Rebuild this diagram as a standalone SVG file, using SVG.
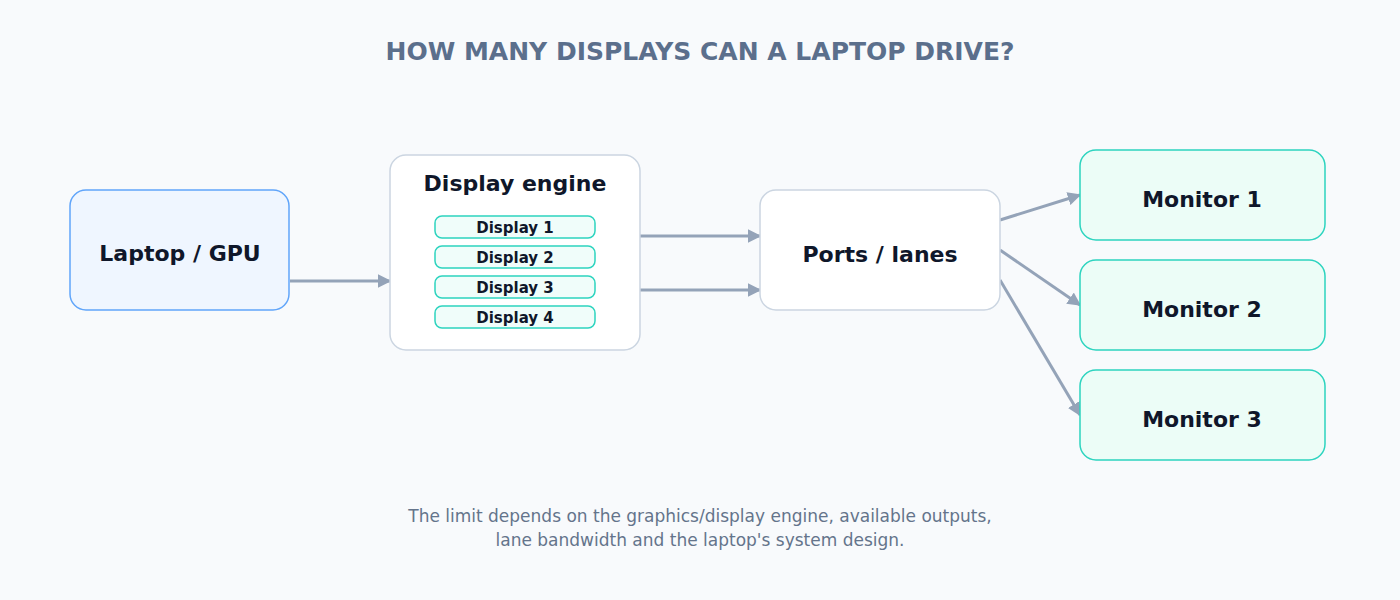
<svg xmlns="http://www.w3.org/2000/svg" width="1400" height="600" viewBox="0 0 1400 600">
<style>
text{font-family:"DejaVu Sans",sans-serif;text-anchor:middle;dominant-baseline:central}
.t{font-weight:bold;fill:#0f172a;font-size:22px}
.p{fill:#f0fdfa;stroke:#2dd4bf;stroke-width:1.5}
.pt{font-weight:bold;fill:#0f172a;font-size:15px}
.m{fill:#ecfdf7;stroke:#2dd4bf;stroke-width:1.5}
.c{stroke:#94a3b8;stroke-width:3;fill:none;marker-end:url(#a)}
</style>
<defs><marker id="a" viewBox="0 0 10 10" refX="9" refY="5" markerWidth="4.5" markerHeight="4.5" orient="auto"><path d="M0,0L10,5L0,10z" fill="#94a3b8"/></marker></defs>
<rect width="1400" height="600" fill="#f8fafc"/>
<text x="700" y="51" style="font-weight:bold;font-size:25px;fill:#5b6f8c">HOW MANY DISPLAYS CAN A LAPTOP DRIVE?</text>
<g id="connectors">
<line class="c" x1="290" y1="281" x2="390" y2="281"/>
<line class="c" x1="640" y1="236" x2="760" y2="236"/>
<line class="c" x1="640" y1="290" x2="760" y2="290"/>
<line class="c" x1="1000" y1="220" x2="1080" y2="195"/>
<line class="c" x1="1000" y1="250" x2="1080" y2="305"/>
<line class="c" x1="1000" y1="280" x2="1080" y2="415"/>
</g>
<g id="laptop"><rect x="70" y="190" width="219" height="120" rx="16" fill="#eff6ff" stroke="#60a5fa" stroke-width="1.5"/><text class="t" x="180" y="253">Laptop / GPU</text></g>
<g id="engine"><rect x="390" y="155" width="250" height="195" rx="16" fill="#fff" stroke="#cbd5e1" stroke-width="1.5"/><text class="t" x="515" y="183">Display engine</text>
<rect class="p" x="435" y="216" width="160" height="22" rx="7"/><text class="pt" x="515" y="228">Display 1</text>
<rect class="p" x="435" y="246" width="160" height="22" rx="7"/><text class="pt" x="515" y="258">Display 2</text>
<rect class="p" x="435" y="276" width="160" height="22" rx="7"/><text class="pt" x="515" y="288">Display 3</text>
<rect class="p" x="435" y="306" width="160" height="22" rx="7"/><text class="pt" x="515" y="318">Display 4</text></g>
<g id="ports"><rect x="760" y="190" width="240" height="120" rx="16" fill="#fff" stroke="#cbd5e1" stroke-width="1.5"/><text class="t" x="880" y="254">Ports / lanes</text></g>
<g id="m1"><rect class="m" x="1080" y="150" width="245" height="90" rx="16"/><text class="t" x="1202" y="199">Monitor 1</text></g>
<g id="m2"><rect class="m" x="1080" y="260" width="245" height="90" rx="16"/><text class="t" x="1202" y="309">Monitor 2</text></g>
<g id="m3"><rect class="m" x="1080" y="370" width="245" height="90" rx="16"/><text class="t" x="1202" y="419">Monitor 3</text></g>
<text x="700" y="516" style="font-size:17px;fill:#64748b">The limit depends on the graphics/display engine, available outputs,</text>
<text x="700" y="540" style="font-size:17px;fill:#64748b">lane bandwidth and the laptop's system design.</text>
</svg>
